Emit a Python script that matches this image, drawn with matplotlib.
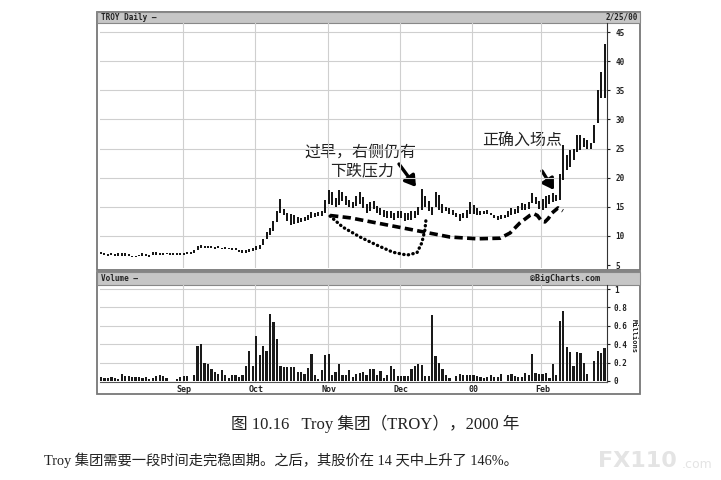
import numpy as np
import matplotlib
matplotlib.use('Agg')
import matplotlib.pyplot as plt
from matplotlib.patches import Rectangle

plt.rcParams['font.family'] = ['Noto Sans CJK SC', 'DejaVu Sans']

# daily bars, Aug 1999 - Feb 25 2000 (trading day index)
highs = [7.3, 7.0, 6.9, 7.0, 6.9, 7.0, 7.1, 7.0, 6.9, 6.6,
         6.6, 6.8, 7.0, 6.9, 6.7, 7.2, 7.3, 7.1, 7.0, 7.0,
         7.05, 7.0, 7.0, 7.0,
         7.0, 7.3, 7.3, 7.6, 8.3, 8.5, 8.3, 8.2, 8.3, 8.1, 8.2, 8.0, 8.1, 8.0, 7.9, 7.9, 7.6, 7.5, 7.6, 7.8, 7.9,
         8.2, 8.5, 9.5, 10.6, 11.3, 12.5, 14.3, 16.4, 14.6, 14.0, 13.8, 13.5, 13.2, 13.0, 13.3, 13.6, 14.1, 14.0, 14.1, 14.3, 16.1,
         17.9, 17.5, 16.5, 17.8, 17.5, 16.8, 16.2, 15.8, 16.8, 17.6, 16.6, 15.5, 15.8, 16.0, 15.2, 14.8, 14.5, 14.3, 14.2, 14.0, 14.2,
         14.3, 14.0, 14.0, 14.2, 14.3, 15.0, 18.0, 16.8, 16.0, 15.0, 17.5, 17.0, 15.5, 15.0, 14.8, 14.5, 14.0, 13.8, 14.0, 14.5, 15.8,
         15.3, 14.8, 14.3, 14.2, 14.4, 14.0, 13.6, 13.4, 13.5, 13.6, 14.2, 14.8, 14.6, 15.2, 15.6, 15.4, 15.8, 17.3, 16.6, 16.0,
         16.3, 16.8, 17.0, 17.3, 17.0, 20.6, 25.6, 23.9, 24.7, 25.0, 27.3, 27.3, 26.8, 26.4, 25.9, 29.0, 35.0, 38.1, 43.0]
lows = [6.9, 6.7, 6.6, 6.7, 6.6, 6.5, 6.6, 6.5, 6.5, 6.3,
        6.3, 6.5, 6.6, 6.5, 6.3, 6.7, 6.8, 6.8, 6.8, 6.9,
        6.8, 6.8, 6.75, 6.8,
        6.8, 6.9, 6.9, 7.0, 7.6, 7.9, 7.9, 8.0, 7.9, 7.8, 7.9, 7.8, 7.8, 7.7, 7.6, 7.5, 7.2, 7.0, 7.1, 7.3, 7.4,
        7.5, 7.8, 8.4, 9.5, 10.2, 10.8, 12.3, 14.0, 13.6, 12.5, 11.9, 12.0, 12.2, 12.3, 12.5, 12.8, 13.0, 13.2, 13.4, 13.4, 13.9,
        15.5, 15.3, 15.0, 15.3, 16.0, 15.3, 15.0, 14.8, 15.2, 15.5, 14.8, 14.0, 14.2, 14.6, 13.9, 13.5, 13.2, 13.0, 13.0, 12.8, 13.0,
        13.0, 12.6, 12.8, 12.8, 13.0, 13.5, 14.5, 15.0, 14.3, 13.5, 15.0, 14.5, 14.0, 14.2, 13.8, 13.5, 13.2, 12.6, 13.0, 13.0, 13.8,
        13.8, 13.6, 13.6, 13.8, 13.7, 13.5, 13.0, 12.8, 12.9, 13.0, 13.2, 13.5, 13.8, 14.0, 14.4, 14.4, 14.6, 15.6, 15.4, 14.6,
        14.4, 14.8, 15.5, 15.8, 16.0, 16.2, 19.6, 21.3, 21.8, 23.0, 24.4, 24.7, 25.2, 25.0, 25.0, 25.9, 29.4, 33.6, 33.6]
# volume in millions
volume = [0.04, 0.03, 0.03, 0.04, 0.03, 0.02, 0.08, 0.05, 0.05, 0.04,
          0.04, 0.04, 0.03, 0.04, 0.02, 0.03, 0.05, 0.06, 0.05, 0.03,
          0.0, 0.0, 0.02, 0.04,
          0.05, 0.05, 0.0, 0.07, 0.38, 0.40, 0.20, 0.19, 0.13, 0.10, 0.08, 0.12, 0.07, 0.03, 0.07, 0.07, 0.04, 0.06, 0.16, 0.33, 0.16,
          0.49, 0.28, 0.38, 0.33, 0.73, 0.64, 0.46, 0.16, 0.15, 0.15, 0.15, 0.15, 0.10, 0.10, 0.08, 0.14, 0.29, 0.07, 0.02, 0.12, 0.28,
          0.29, 0.07, 0.10, 0.19, 0.07, 0.07, 0.12, 0.04, 0.08, 0.09, 0.10, 0.07, 0.13, 0.13, 0.07, 0.11, 0.03, 0.06, 0.16, 0.13, 0.05,
          0.05, 0.05, 0.05, 0.13, 0.16, 0.19, 0.17, 0.05, 0.05, 0.72, 0.27, 0.20, 0.13, 0.07, 0.03, 0.0, 0.05, 0.08, 0.06, 0.06, 0.07,
          0.07, 0.05, 0.04, 0.03, 0.04, 0.06, 0.04, 0.04, 0.08, 0.0, 0.06, 0.08, 0.05, 0.04, 0.04, 0.09, 0.07, 0.29, 0.09, 0.08,
          0.08, 0.09, 0.03, 0.18, 0.06, 0.65, 0.76, 0.37, 0.32, 0.16, 0.32, 0.30, 0.20, 0.08, 0.0, 0.22, 0.33, 0.30, 0.36]

month_pos = [24, 45, 66, 87, 108, 128]
month_labels = ['Sep', 'Oct', 'Nov', 'Dec', '00', 'Feb']
price_ticks = [5, 10, 15, 20, 25, 30, 35, 40, 45]
vol_ticks = [0, 0.2, 0.4, 0.6, 0.8, 1]
vol_tick_labels = ['0', '0.2', '0.4', '0.6', '0.8', '1']

# hand drawn marks (day, price)
dash_x = [66.4, 72.2, 93.3, 101.2, 109, 115.7, 118.6, 121.4, 124.3, 125.5, 126.5, 127.8, 128.7, 129.7, 130.7, 132.5, 133.9]
dash_y = [13.5, 13.1, 10.7, 9.8, 9.5, 9.6, 10.5, 12.2, 13.5, 13.8, 13.5, 12.5, 12.4, 13.0, 13.9, 14.8, 14.3]
dot_x = [66.4, 70.1, 75.1, 80, 84.6, 88.7, 91.6, 93, 93.9, 94.2]
dot_y = [13.4, 11.5, 9.8, 8.4, 7.2, 6.7, 7.1, 8.8, 11.0, 12.7]

W, H = 721, 480
def box(x0, y0, x1, y1):
    return [x0 / W, 1 - y1 / H, (x1 - x0) / W, (y1 - y0) / H]

fig = plt.figure(figsize=(7.21, 4.8), dpi=100)
bg = fig.add_axes([0, 0, 1, 1])
bg.set_xlim(0, W)
bg.set_ylim(H, 0)
bg.axis('off')

mono = dict(family='DejaVu Sans Mono', weight='bold', color='#222')

# panel frames and grey header bars
for y0, y1, hy in [(12, 270, 23), (272, 394, 285)]:
    bg.add_patch(Rectangle((97, y0), 543, y1 - y0, facecolor='white', edgecolor='#777', lw=1.3))
    bg.add_patch(Rectangle((97, y0), 543, hy - y0, facecolor='#c6c6c6', edgecolor='#888', lw=0.8))
bg.text(101, 17.5, 'TROY Daily \u2014', fontsize=5.5, va='center', ha='left', **mono)
bg.text(638, 17.5, '2/25/00', fontsize=5.5, va='center', ha='right', **mono)
bg.text(101, 278.5, 'Volume \u2014', fontsize=5.5, va='center', ha='left', **mono)
bg.text(600, 278.5, '\u00a9BigCharts.com', fontsize=6, va='center', ha='right', **mono)
bg.text(634, 336, 'Millions', fontsize=5, va='center', ha='center', rotation=270, **mono)

days = np.arange(len(highs))
grid_c = '#cfcfcf'

# price panel
ax = fig.add_axes(box(100, 23, 607, 268))
ax.set_zorder(2)
ax.patch.set_alpha(0)
ax.set_xlim(-0.3, 146.7)
ax.set_ylim(4.485, 46.55)
for p in price_ticks[1:]:
    ax.axhline(p, color=grid_c, lw=0.8, zorder=0)
for m in month_pos:
    ax.axvline(m - 0.3, color=grid_c, lw=0.8, zorder=0)
ax.vlines(days, lows, highs, color='#111', lw=1.4, zorder=3)
ax.plot(dash_x, dash_y, color='black', lw=2.6, dashes=(2.3, 1.2), zorder=4)
ax.plot(dot_x, dot_y, color='black', lw=2.4, dashes=(0.1, 1.3), dash_capstyle='round', zorder=4)
ax.set_xticks([])
ax.yaxis.tick_right()
ax.set_yticks(price_ticks)
ax.tick_params(axis='y', length=2, pad=4, labelsize=5.5, colors='#222')
for lab in ax.get_yticklabels():
    lab.set_fontweight('bold')
    lab.set_family('DejaVu Sans Mono')
for s in ['left', 'top', 'bottom']:
    ax.spines[s].set_visible(False)
ax.spines['right'].set_color('#333')

# volume panel
vx = fig.add_axes(box(100, 285, 607, 382))
vx.set_zorder(2)
vx.patch.set_alpha(0)
vx.set_xlim(-0.3, 146.7)
vx.set_ylim(-0.011, 1.0435)
for v in vol_ticks[1:]:
    vx.axhline(v, color=grid_c, lw=0.8, zorder=0)
for m in month_pos:
    vx.axvline(m - 0.3, color=grid_c, lw=0.8, zorder=0)
vx.bar(days, volume, width=0.65, color='#1a1a1a', zorder=3)
vx.yaxis.tick_right()
vx.set_yticks(vol_ticks)
vx.set_yticklabels(vol_tick_labels)
vx.set_xticks(month_pos)
vx.set_xticklabels(month_labels)
vx.tick_params(axis='y', length=2, pad=3, labelsize=5.5, colors='#222')
vx.tick_params(axis='x', length=0, pad=2, labelsize=6, colors='#222')
for lab in vx.get_yticklabels() + vx.get_xticklabels():
    lab.set_fontweight('bold')
    lab.set_family('DejaVu Sans Mono')
for s in ['left', 'top']:
    vx.spines[s].set_visible(False)
vx.spines['right'].set_color('#333')
vx.spines['bottom'].set_color('#555')

# notes on the chart
bg.text(360, 152, '过早，右侧仍有', fontsize=11.5, ha='center', va='center', color='#222', zorder=5)
bg.text(362, 171, '下跌压力', fontsize=11.5, ha='center', va='center', color='#222', zorder=5)
bg.text(522, 141, '正确入场点', fontsize=11.5, ha='center', va='center', color='#222', zorder=5)
arrow = dict(arrowstyle='-|>,head_length=0.45,head_width=0.28', lw=2.4, color='black',
             mutation_scale=14, shrinkA=0, shrinkB=0)
bg.annotate('', xy=(416, 187), xytext=(399, 164), arrowprops=arrow, zorder=5)
bg.annotate('', xy=(554, 190), xytext=(542, 171), arrowprops=arrow, zorder=5)

# caption
serif = ['Liberation Serif', 'Noto Sans CJK SC']
bg.text(375, 424, '图 10.16   Troy 集团（TROY），2000 年', fontsize=12, ha='center', va='center',
        family=serif, color='#222')
bg.text(44, 460, 'Troy 集团需要一段时间走完稳固期。之后，其股价在 14 天中上升了 146%。', fontsize=10.3,
        ha='left', va='center', family=serif, color='#222')
bg.text(598, 461, 'FX110', fontsize=16, weight='bold', color='#e4e4e4', ha='left', va='center', family='DejaVu Sans')
bg.text(682, 465, '.com', fontsize=9, color='#e4e4e4', ha='left', va='center', family='DejaVu Sans')

fig.savefig('out.png', dpi=100)
